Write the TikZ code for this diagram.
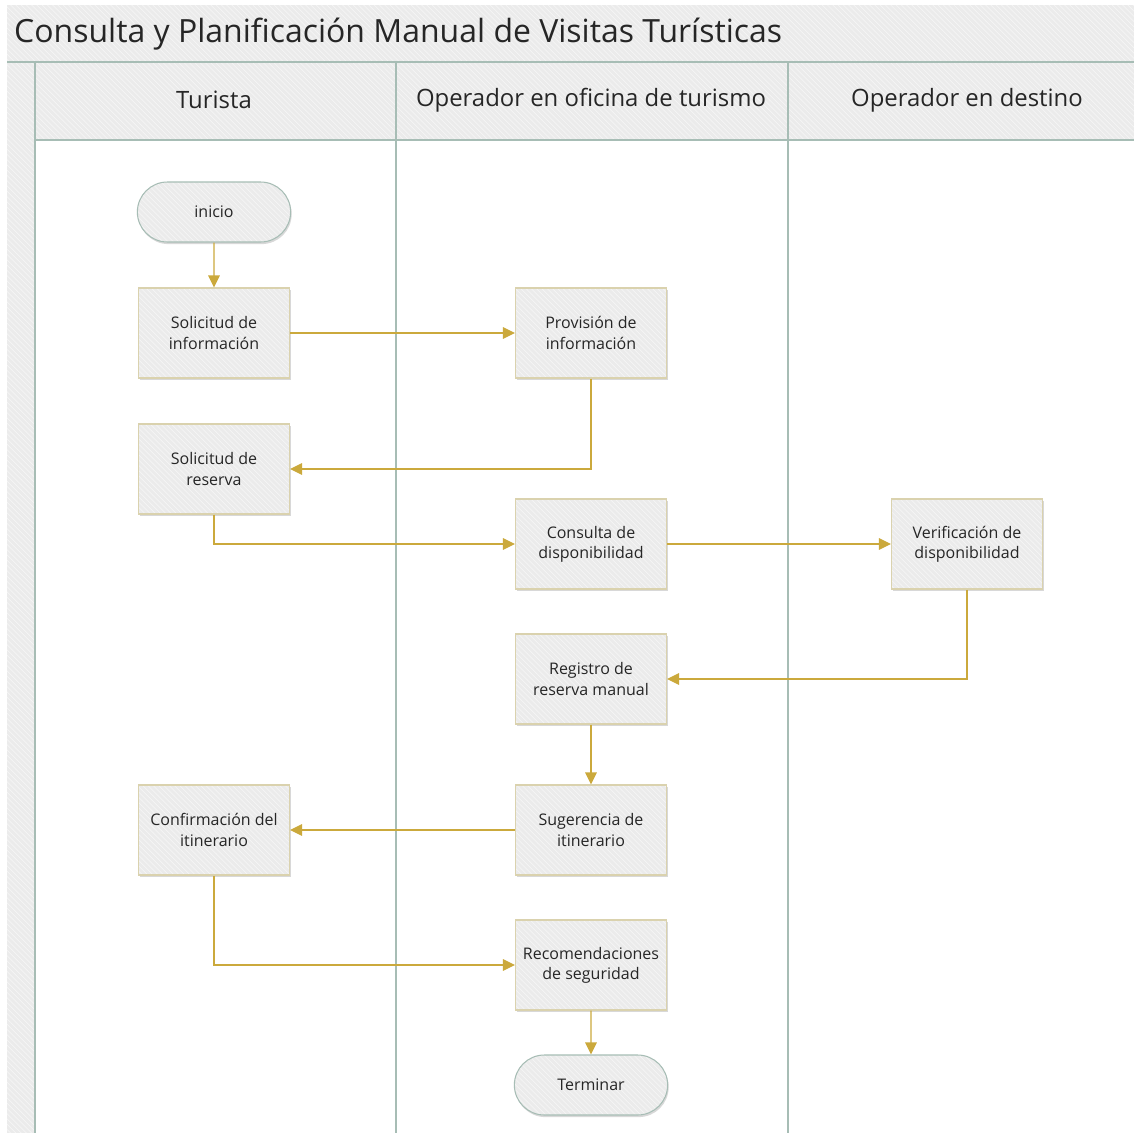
\documentclass[tikz,border=0pt]{standalone}
\usepackage{fontspec}
\setmainfont{Open Sans}
\usetikzlibrary{arrows.meta,shapes.misc,shadows,patterns}
\definecolor{lanegray}{HTML}{EBEBEB}
\definecolor{stripe}{HTML}{F5F5F5}
\definecolor{laneline}{HTML}{A7BDB5}
\definecolor{boxline}{HTML}{DAD2AE}
\definecolor{flowgold}{HTML}{CBA93C}
\definecolor{textgray}{HTML}{262626}
\tikzset{
  hatch/.style={preaction={fill=lanegray},pattern=north west lines,pattern color=stripe},
  title/.style={font=\fontsize{18.2}{21}\selectfont,text=textgray,anchor=west},
  lanehead/.style={font=\fontsize{13.6}{16}\selectfont,text=textgray},
  lane/.style={draw=laneline,line width=0.8pt},
  procbox/.style={drop shadow={shadow xshift=0.6pt,shadow yshift=-1.2pt,opacity=0.3},hatch,draw=boxline,line width=0.6pt,
    minimum width=3.02cm,minimum height=1.8cm,align=center,font=\fontsize{9.1}{11.5}\selectfont,text=textgray},
  terminal/.style={rounded rectangle,drop shadow={shadow xshift=0.6pt,shadow yshift=-1.2pt,opacity=0.3},hatch,draw=laneline,line width=0.6pt,
    minimum width=3.3cm,minimum height=1.2cm,font=\fontsize{9.1}{11.5}\selectfont,text=textgray},
  flow/.style={-{Triangle[length=2.4mm,width=2.3mm]},draw=flowgold,line width=0.7pt}
}
\begin{document}
\begin{tikzpicture}[x=0.02cm,y=-0.02cm]
\path[use as bounding box] (0,0) rectangle (1134,1133);
% pool background
\fill[white] (0,0) rectangle (1134,1133);
\path[hatch] (7,5) rectangle (1134,1133);
\fill[white] (35,140) rectangle (1134,1133);
\node[title] (ttl) at (8,34) {Consulta y Planificación Manual de Visitas Turísticas};
\draw[lane] (7,62) -- (1134,62);
\draw[lane] (35,140) -- (1134,140);
\draw[lane] (35,62) -- (35,1133);
\draw[lane] (396,62) -- (396,1133);
\draw[lane] (788,62) -- (788,1133);
\node[lanehead] (h1) at (214,100) {Turista};
\node[lanehead] (h2) at (591,100) {Operador en oficina de turismo};
\node[lanehead] (h3) at (967,100) {Operador en destino};

% nodes
\node[terminal] (ini) at (214,212) {inicio};
\node[procbox] (solinfo) at (214,333) {Solicitud de\\información};
\node[procbox] (provinfo) at (591,333) {Provisión de\\información};
\node[procbox] (solres) at (214,469) {Solicitud de\\reserva};
\node[procbox] (consdisp) at (591,544) {Consulta de\\disponibilidad};
\node[procbox] (verdisp) at (967,544) {Verificación de\\disponibilidad};
\node[procbox] (regres) at (591,679) {Registro de\\reserva manual};
\node[procbox] (sugit) at (591,830) {Sugerencia de\\itinerario};
\node[procbox] (confit) at (214,830) {Confirmación del\\itinerario};
\node[procbox] (recseg) at (591,965) {Recomendaciones\\de seguridad};
\node[terminal] (fin) at (591,1085) {Terminar};

% flows
\draw[flow] (ini) -- (solinfo);
\draw[flow] (solinfo) -- (provinfo);
\draw[flow] (provinfo.south) |- (solres.east);
\draw[flow] (solres.south) |- (consdisp.west);
\draw[flow] (consdisp) -- (verdisp);
\draw[flow] (verdisp.south) |- (regres.east);
\draw[flow] (regres) -- (sugit);
\draw[flow] (sugit) -- (confit);
\draw[flow] (confit.south) |- (recseg.west);
\draw[flow] (recseg) -- (fin);
\end{tikzpicture}
\end{document}
